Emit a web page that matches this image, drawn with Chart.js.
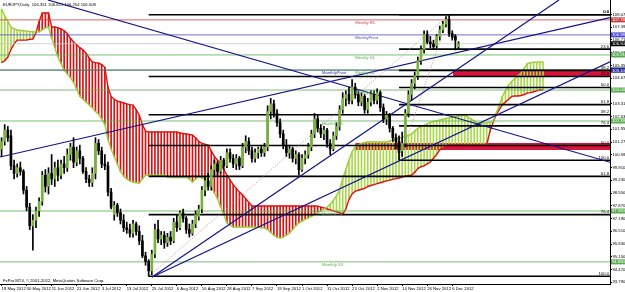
<!DOCTYPE html>
<html>
<head>
<meta charset="utf-8">
<script src="https://cdn.jsdelivr.net/npm/chart.js@4.4.1/dist/chart.umd.min.js"></script>
<style>
  html, body { margin: 0; padding: 0; background: #fff; overflow: hidden; }
  #wrap { width: 625px; height: 292px; }
</style>
</head>
<body>
<div id="wrap"><canvas id="chart" width="625" height="292"></canvas></div>
<script>
/* ==========================
   EURJPY Daily — MT4 style
   bar index 0 = 18 May 2012
   ========================== */

const TICK_STEP = 8;
const TICK_LABELS = [
  "18 May 2012", "30 May 2012", "11 Jun 2012", "21 Jun 2012", "3 Jul 2012",
  "13 Jul 2012", "25 Jul 2012", "6 Aug 2012", "16 Aug 2012", "28 Aug 2012",
  "7 Sep 2012", "19 Sep 2012", "1 Oct 2012", "11 Oct 2012", "23 Oct 2012",
  "2 Nov 2012", "14 Nov 2012", "26 Nov 2012", "6 Dec 2012"
];
const Y_TICKS = [
  108.07, 107.39, 106.71, 106.03, 105.35, 104.67, 103.99, 103.31, 102.63, 101.95,
  101.27, 100.59, 99.91, 99.23, 98.55, 97.87, 97.19, 96.51, 95.83, 95.15, 94.47, 93.79
];

/* ---- candles ---- */
const OPEN = [
  100.9, 101.3, 101.9, 101.6, 100.0, 99.6, 99.9, 99.7, 98.7, 97.8,
  96.8, 97.1, 97.6, 98.1, 99.5, 98.9, 99.6, 99.3, 99.9, 99.5,
  100.1, 99.9, 100.6, 101.0, 100.2, 100.8, 100.4, 99.7, 99.3, 99.1,
  99.6, 101.2, 100.8, 100.1, 100.0, 98.6, 97.4, 97.9, 97.5, 97.1,
  96.7, 96.6, 96.4, 96.9, 96.5, 96.0, 95.2, 94.9, 94.4, 95.3,
  96.6, 96.1, 96.3, 95.9, 96.2, 96.0, 97.0, 96.7, 97.5, 97.2,
  96.6, 96.4, 96.9, 97.3, 97.7, 98.7, 99.2, 98.9, 99.8, 100.1,
  99.7, 100.3, 100.0, 100.7, 100.4, 100.1, 100.4, 100.0, 101.0, 101.3,
  100.8, 100.4, 100.7, 100.9, 100.7, 101.0, 102.9, 103.3, 102.8, 102.3,
  101.7, 101.1, 100.7, 100.9, 100.4, 100.6, 99.8, 100.4, 100.6, 101.0,
  101.7, 102.5, 102.0, 101.7, 101.9, 101.2, 100.9, 101.6, 102.1, 103.0,
  103.6, 103.8, 103.5, 104.2, 103.8, 103.4, 103.7, 103.0, 103.4, 103.8,
  103.5, 103.9, 103.1, 102.5, 102.7, 102.0, 101.5, 101.3, 100.8, 101.2,
  102.8, 103.8, 104.4, 104.8, 105.6, 106.2, 107.0, 106.6, 106.5, 106.4,
  106.9, 107.25, 107.55, 107.8, 107.05, 106.9, 106.351
];
const HIGH = [
  101.5, 102.2, 102.1, 101.9, 100.3, 100.1, 100.2, 99.8, 98.9, 98.0,
  97.4, 97.8, 98.3, 99.7, 99.8, 99.9, 100.6, 100.2, 100.3, 100.3,
  100.5, 100.9, 101.2, 101.5, 101.0, 101.1, 100.5, 99.9, 99.5, 99.9,
  101.5, 101.4, 101.0, 100.6, 100.2, 98.8, 98.1, 98.0, 97.7, 97.4,
  97.0, 96.9, 97.1, 97.0, 96.8, 96.3, 95.4, 95.0, 95.5, 96.9,
  97.1, 96.5, 96.5, 96.4, 96.5, 97.2, 97.4, 97.6, 97.7, 97.3,
  96.9, 97.1, 97.6, 97.9, 98.9, 99.4, 99.6, 100.0, 100.3, 100.2,
  100.5, 100.4, 100.9, 100.9, 100.6, 100.6, 100.5, 101.2, 101.6, 101.5,
  101.0, 100.9, 101.0, 101.1, 101.2, 103.2, 103.6, 103.5, 103.0, 102.5,
  101.9, 101.4, 101.1, 101.0, 100.8, 100.7, 100.6, 100.8, 101.2, 101.9,
  102.8, 102.7, 102.2, 102.1, 102.0, 101.4, 101.8, 102.3, 103.2, 103.9,
  104.0, 104.2, 104.6, 104.4, 104.0, 103.9, 103.8, 103.6, 104.0, 104.0,
  104.1, 104.0, 103.3, 102.9, 102.8, 102.1, 101.7, 101.6, 101.8, 103.0,
  104.0, 104.6, 105.0, 105.8, 106.4, 107.2, 107.2, 106.9, 106.7, 107.0,
  107.45, 107.7, 107.95, 108.05, 107.2, 107.0, 106.621
];
const LOW = [
  100.5, 101.1, 101.3, 99.8, 99.3, 99.4, 99.5, 98.5, 97.6, 96.6,
  95.5, 96.7, 97.3, 97.9, 98.6, 98.5, 99.0, 98.9, 99.2, 99.3,
  99.6, 99.7, 100.3, 99.9, 100.0, 100.1, 99.6, 99.1, 98.9, 98.9,
  99.3, 100.6, 99.9, 99.8, 98.4, 97.7, 97.1, 97.3, 96.9, 96.5,
  96.4, 96.2, 96.2, 96.3, 95.8, 95.1, 94.7, 94.11, 94.2, 95.1,
  95.9, 95.8, 95.6, 95.7, 95.8, 95.9, 96.5, 96.6, 97.0, 96.4,
  96.2, 96.3, 96.7, 97.1, 97.5, 98.4, 98.7, 98.7, 99.5, 99.5,
  99.6, 99.8, 99.9, 100.2, 99.9, 99.8, 99.8, 99.9, 100.7, 100.6,
  100.2, 100.2, 100.4, 100.5, 100.5, 100.8, 102.5, 102.6, 102.1, 101.5,
  100.9, 100.5, 100.4, 100.2, 100.1, 99.5, 99.7, 100.1, 100.4, 100.8,
  101.5, 101.8, 101.5, 101.4, 101.0, 100.6, 100.8, 101.4, 101.9, 102.8,
  103.2, 103.3, 103.3, 103.6, 103.2, 103.2, 102.8, 102.8, 103.2, 103.3,
  103.3, 102.9, 102.3, 102.2, 101.8, 101.3, 100.9, 100.3, 100.5, 101.0,
  102.6, 103.5, 104.1, 104.6, 105.4, 106.0, 106.5, 106.3, 106.2, 106.2,
  106.7, 107.1, 107.4, 106.9, 106.7, 106.18, 106.25
];
const CLOSE = [
  101.3, 101.9, 101.5, 100.0, 99.6, 99.9, 99.7, 98.7, 97.8, 96.8,
  97.1, 97.6, 98.1, 99.5, 98.9, 99.6, 99.3, 99.9, 99.5, 100.1,
  99.9, 100.6, 101.0, 100.2, 100.8, 100.4, 99.7, 99.3, 99.1, 99.6,
  101.2, 100.8, 100.1, 100.0, 98.6, 97.8, 97.9, 97.5, 97.1, 96.7,
  96.6, 96.4, 96.9, 96.5, 96.0, 95.2, 94.9, 94.4, 95.3, 96.6,
  96.1, 96.3, 95.9, 96.2, 96.0, 97.0, 96.7, 97.5, 97.2, 96.6,
  96.4, 96.9, 97.4, 97.7, 98.7, 99.2, 98.9, 99.8, 100.1, 99.7,
  100.3, 100.0, 100.7, 100.4, 100.1, 100.4, 100.0, 101.0, 101.3, 100.8,
  100.4, 100.7, 100.9, 100.7, 101.0, 102.9, 103.3, 102.8, 102.3, 101.7,
  101.1, 100.7, 100.9, 100.4, 100.6, 99.8, 100.4, 100.6, 101.0, 101.7,
  102.5, 102.0, 101.7, 101.9, 101.2, 100.9, 101.6, 102.1, 103.0, 103.6,
  103.8, 103.5, 104.2, 103.8, 103.4, 103.7, 103.0, 103.4, 103.8, 103.5,
  103.9, 103.1, 102.5, 102.7, 102.0, 101.5, 101.3, 100.7, 101.2, 102.8,
  103.8, 104.4, 104.8, 105.6, 106.2, 107.0, 106.6, 106.5, 106.35, 106.9,
  107.25, 107.55, 107.8, 107.05, 106.85, 106.7, 106.508
];

/* ---- ichimoku cloud (senkou spans, already shifted) ---- */
const SPAN_A = [
  108.35, 108.0, 107.7, 107.4, 107.3, 107.24, 107.22, 107.2, 107.18, 107.16,
  107.15, 107.14, 107.14, 107.25, 107.35, 107.4, 106.8, 106.3, 105.8, 105.45,
  105.1, 104.9, 104.7, 104.45, 104.1, 103.7, 103.55, 103.4, 103.25, 103.1,
  102.9, 102.75, 102.5, 102.2, 101.4, 100.9, 100.5, 100.1, 99.7, 99.45,
  99.3, 99.2, 99.14, 99.1, 99.08, 99.3, 99.5, 99.5, 99.5, 99.5,
  99.5, 99.5, 99.5, 99.4, 99.38, 99.38, 99.38, 99.38, 99.38, 99.38,
  99.3, 99.14, 99.3, 99.4, 99.35, 99.3, 99.24, 98.9, 98.55, 98.25,
  97.8, 97.4, 96.95, 96.85, 96.74, 96.74, 96.74, 96.74, 96.74, 96.74,
  96.74, 96.74, 96.72, 96.7, 96.68, 96.6, 96.45, 96.3, 96.2, 96.15,
  96.2, 96.3, 96.42, 96.6, 96.8, 96.95, 97.05, 97.15, 97.22, 97.3,
  97.42, 97.5, 97.58, 97.7, 97.8, 97.95, 98.15, 98.4, 98.7, 99.3,
  99.8, 100.3, 100.75, 101.0, 101.12, 101.2, 101.25, 101.27, 101.27, 101.27,
  101.27, 101.27, 101.27, 101.27, 101.32, 101.38, 101.43, 101.48, 101.52, 101.57,
  101.62, 101.7, 101.85, 102.0, 102.08, 102.15, 102.25, 102.32, 102.36, 102.4,
  102.45, 102.48, 102.52, 102.55, 102.58, 102.62, 102.65, 102.68, 102.71, 102.6,
  102.5, 102.38, 102.3, 102.28, 102.28, 102.28, 102.32, 102.34, 102.8, 103.2,
  103.7, 104.0, 104.3, 104.5, 104.65, 104.8, 104.95, 105.2, 105.45, 105.5,
  105.52, 105.53, 105.54, 105.54
];
const SPAN_B = [
  105.5, 105.6, 105.8, 106.2, 106.5, 106.7, 106.7, 106.7, 106.7, 106.75,
  106.76, 107.1, 107.7, 108.15, 108.15, 108.15, 107.4, 107.4, 107.35, 107.3,
  107.2, 107.05, 106.8, 106.6, 106.45, 106.3, 106.18, 106.0, 105.75, 105.54,
  105.5, 105.48, 105.4, 105.25, 104.2, 103.7, 103.55, 103.45, 103.4, 103.35,
  103.3, 103.26, 103.24, 103.0, 102.7, 102.2, 101.85, 101.8, 101.8, 101.8,
  101.8, 101.8, 101.8, 101.8, 101.8, 101.8, 101.8, 101.75, 101.72, 101.7,
  101.67, 101.64, 101.5, 101.3, 101.2, 101.15, 101.11, 100.8, 100.5, 100.3,
  100.1, 99.8, 99.5, 99.25, 99.0, 98.8, 98.6, 98.45, 98.25, 98.05,
  97.86, 97.86, 97.86, 97.86, 97.86, 97.86, 97.86, 97.86, 97.86, 97.86,
  97.86, 97.86, 97.86, 97.86, 97.86, 97.86, 97.86, 97.86, 97.86, 97.86,
  97.86, 97.85, 97.8, 97.75, 97.7, 97.65, 97.6, 97.55, 97.5, 97.4,
  97.7, 98.2, 98.5, 98.65, 98.7, 98.75, 98.8, 98.9, 98.95, 99.0,
  99.05, 99.1, 99.15, 99.2, 99.24, 99.28, 99.32, 99.35, 99.4, 99.45,
  99.48, 99.5, 99.65, 99.85, 99.95, 100.0, 100.1, 100.2, 100.4, 100.6,
  100.85, 100.95, 101.05, 101.11, 101.11, 101.11, 101.11, 101.11, 101.11, 101.11,
  101.11, 101.11, 101.11, 101.11, 101.11, 101.11, 101.8, 102.3, 102.7, 103.0,
  103.24, 103.4, 103.55, 103.7, 103.72, 103.72, 103.75, 103.8, 103.88, 103.9,
  103.95, 104.0, 104.04, 104.04
];

/* ---- pivot lines ---- */
const PIVOT_NAMES = [
  "Weekly R1", "WeeklyPivot", "Weekly S1", "Weekly S2", "Weekly S3",
  "MonthlyPivot", "Monthly S1", "Monthly S2", "Monthly S3"
];
const PIVOT_PRICES = [107.78, 106.98, 105.91, 105.11, 104.04, 105.10, 102.39, 97.59, 94.88];
const LAST_PRICE = 106.508;

/* ---- fibonacci (two retracements from lows up to the same high) ---- */
const FIBO_LEVELS = [0, 23.6, 38.2, 50.0, 61.8, 76.4, 100.0];
const FIBO_LOW_BARS = [47, 127];
const FIBO_LOWS = [94.11, 100.30];
const FIBO_HIGH_BAR = 143;
const FIBO_HIGH = 108.05;

/* ---- trend lines: [bar1, price1, bar2, price2] ---- */
const TRENDS = [
  [14.8, 108.84, 194.4, 100.19],
  [-0.5, 100.47, 194.4, 107.90],
  [48.1, 94.07, 178.1, 108.84],
  [48.1, 94.07, 194.4, 105.54]
];

/* ---- supply zones: start bar, top, bottom ---- */
const ZONE_FROM = [144.2, 113];
const ZONE_TOP = [105.11, 101.22];
const ZONE_BOTTOM = [104.74, 100.84];

/* ==========================
   Layout / style
   ========================== */
const X_MIN = -0.5, X_MAX = 194.4;
const Y_MIN = 93.70, Y_MAX = 108.84;
const WEEKLY_LABEL_BAR = 112.9;
const MONTHLY_LABEL_BAR = 102.4;
const FAMILY = '"Liberation Sans Narrow", "Liberation Sans"';
const FONT = "4.2px " + FAMILY;
const TITLE = "EURJPY,Daily  106.351 106.621 106.254 106.508";
const COPYRIGHT = "FxPro MT4, \u00A9 2001-2012, MetaQuotes Software Corp.";

const pivotColor = (name) => {
  if (name === "MonthlyPivot") return "#2a2aa0";
  if (name === "WeeklyPivot") return "#4a4ac8";
  if (name.includes("R")) return "#c84040";
  return "#5aac50";
};

const seg = (x1, y1, x2, y2) => [{ x: x1, y: y1 }, { x: x2, y: y2 }];

const datasets = [];

/* candles */
datasets.push({
  type: "bar", order: 0, grouped: false, barThickness: 2, borderWidth: 0,
  data: OPEN.map((o, i) => ({ x: i, y: [o, CLOSE[i]] })),
  backgroundColor: OPEN.map((o, i) => (CLOSE[i] >= o ? "#7ab03c" : "#000"))
});
datasets.push({
  type: "bar", order: 1, grouped: false, barThickness: 1, borderWidth: 0,
  data: HIGH.map((h, i) => ({ x: i, y: [LOW[i], h] })),
  backgroundColor: "#000"
});

/* trend lines */
TRENDS.forEach((t) => {
  datasets.push({
    type: "line", order: 2, data: seg(t[0], t[1], t[2], t[3]),
    borderColor: "#10108c", borderWidth: 1.2, pointRadius: 0
  });
});

/* fibo diagonals + levels */
FIBO_LOWS.forEach((low, k) => {
  datasets.push({
    type: "line", order: 3, data: seg(FIBO_LOW_BARS[k], low, FIBO_HIGH_BAR, FIBO_HIGH),
    borderColor: "#d49090", borderWidth: 1, borderDash: [1, 1.5], pointRadius: 0
  });
  FIBO_LEVELS.forEach((lv) => {
    const p = FIBO_HIGH - ((FIBO_HIGH - low) * lv) / 100;
    datasets.push({
      type: "line", order: 4, data: seg(FIBO_LOW_BARS[k], p, X_MAX, p),
      borderColor: "#000", borderWidth: 1.6, pointRadius: 0
    });
  });
});

/* pivots + bid line */
PIVOT_NAMES.forEach((name, k) => {
  datasets.push({
    type: "line", order: 5, data: seg(X_MIN, PIVOT_PRICES[k], X_MAX, PIVOT_PRICES[k]),
    borderColor: pivotColor(name), borderWidth: 0.8, pointRadius: 0
  });
});
datasets.push({
  type: "line", order: 5, data: seg(X_MIN, LAST_PRICE, X_MAX, LAST_PRICE),
  borderColor: "#c8c8c8", borderWidth: 0.8, pointRadius: 0
});

/* cloud edges + hatch */
datasets.push({
  type: "line", order: 6, data: SPAN_A.map((a, i) => ({ x: i, y: a })),
  borderColor: "#9acd32", borderWidth: 1.4, pointRadius: 0
});
datasets.push({
  type: "line", order: 6, data: SPAN_B.map((b, i) => ({ x: i, y: b })),
  borderColor: "#e01010", borderWidth: 1.4, pointRadius: 0
});
datasets.push({
  type: "bar", order: 7, grouped: false, barThickness: 1, borderWidth: 0,
  data: SPAN_A.map((a, i) => ({ x: i, y: [a, SPAN_B[i]] })),
  backgroundColor: SPAN_A.map((a, i) => (SPAN_B[i] > a ? "#d81010" : "#a8d84a"))
});

/* zones */
ZONE_FROM.forEach((from, k) => {
  datasets.push({
    type: "line", order: 8, data: seg(from, ZONE_TOP[k], X_MAX, ZONE_TOP[k]),
    borderWidth: 0, pointRadius: 0, fill: { value: ZONE_BOTTOM[k] },
    backgroundColor: "#d8143c"
  });
});

/* ==========================
   Text overlay
   ========================== */
const mtText = {
  id: "mtText",
  afterDraw(chart) {
    const { ctx, chartArea: ca, scales } = chart;
    const x = scales.x, y = scales.y;
    ctx.save();
    ctx.font = FONT;

    ctx.textBaseline = "top";
    ctx.textAlign = "left";
    PIVOT_NAMES.forEach((name, k) => {
      const bar = name.startsWith("Monthly") ? MONTHLY_LABEL_BAR : WEEKLY_LABEL_BAR;
      ctx.fillStyle = pivotColor(name);
      ctx.fillText(name, x.getPixelForValue(bar), y.getPixelForValue(PIVOT_PRICES[k]) + 1);
    });

    ctx.fillStyle = "#000";
    ctx.textAlign = "right";
    ctx.textBaseline = "bottom";
    FIBO_LOWS.forEach((low) => {
      FIBO_LEVELS.forEach((lv) => {
        const p = FIBO_HIGH - ((FIBO_HIGH - low) * lv) / 100;
        ctx.fillText(lv.toFixed(1), ca.right - 1, y.getPixelForValue(p) - 0.5);
      });
    });

    ctx.textAlign = "left";
    ctx.textBaseline = "middle";
    ctx.fillText(TITLE, 3, 4.5);
    ctx.fillText(COPYRIGHT, 3, 280.5);

    const boxes = PIVOT_NAMES.map((n, k) => [PIVOT_PRICES[k], pivotColor(n)]);
    boxes.push([LAST_PRICE, "#000"]);
    boxes.forEach(([p, col]) => {
      const py = y.getPixelForValue(p);
      ctx.fillStyle = col;
      ctx.fillRect(ca.right + 1, py - 2.5, 15, 5);
      ctx.fillStyle = "#fff";
      ctx.fillText(p.toFixed(3), ca.right + 2, py + 0.3);
    });
    ctx.restore();
  }
};

new Chart(document.getElementById("chart"), {
  type: "bar",
  data: { datasets },
  plugins: [mtText],
  options: {
    responsive: false,
    animation: false,
    events: [],
    layout: { padding: 0, autoPadding: false },
    plugins: { legend: { display: false }, tooltip: { enabled: false } },
    scales: {
      x: {
        type: "linear", min: X_MIN, max: X_MAX, offset: false,
        grid: { offset: false, drawOnChartArea: false, tickLength: 2, color: "#000" },
        border: { color: "#000" },
        afterBuildTicks: (s) => { s.ticks = TICK_LABELS.map((_, k) => ({ value: k * TICK_STEP })); },
        afterFit: (s) => { s.height = 8; s.paddingLeft = 0; s.paddingRight = 0; },
        ticks: {
          autoSkip: false, maxRotation: 0, align: "start", padding: 0.5, color: "#000",
          font: { family: FAMILY, size: 4.2 },
          callback: (v) => TICK_LABELS[Math.round(v / TICK_STEP)]
        }
      },
      y: {
        type: "linear", position: "right", min: Y_MIN, max: Y_MAX,
        grid: { drawOnChartArea: false, tickLength: 2, color: "#000" },
        border: { color: "#000" },
        afterBuildTicks: (s) => { s.ticks = Y_TICKS.map((v) => ({ value: v })); },
        afterFit: (s) => { s.width = 15; s.paddingTop = 0; s.paddingBottom = 0; },
        ticks: {
          padding: 0.5, color: "#000",
          font: { family: FAMILY, size: 4.2 },
          callback: (v) => Number(v).toFixed(3)
        }
      }
    }
  }
});
</script>
</body>
</html>
